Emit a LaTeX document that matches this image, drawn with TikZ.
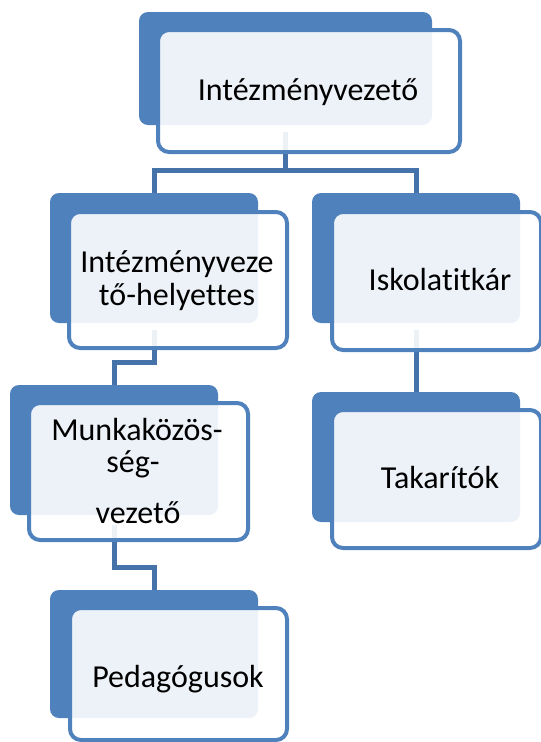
\documentclass[tikz,border=0pt]{standalone}
\usepackage{fontspec}
\setmainfont[Ligatures=NoCommon]{Carlito}
\definecolor{bl}{HTML}{4F81BD}
\definecolor{cn}{HTML}{4672AA}
\begin{document}
\begin{tikzpicture}[x=1pt,y=-1pt,
 back/.style={fill=bl, rounded corners=9pt, inner sep=0pt, outer sep=0pt},
 front/.style={draw=bl, line width=4pt, fill=white, fill opacity=0.9, rounded corners=11pt, inner sep=0pt, outer sep=0pt},
 conn/.style={draw=cn, line width=5pt},
 lbl/.style={font=\fontsize{32}{34}\selectfont, anchor=base, inner sep=0pt, text=black}]
\useasboundingbox (0,0) rectangle (541,742);
% back panels
\node[back, minimum width=293pt, minimum height=113pt] (b1) at (285.5,68.5) {};
\node[back, minimum width=208pt, minimum height=130pt] (b2) at (154,258) {};
\node[back, minimum width=208pt, minimum height=130pt] (b3) at (416,258) {};
\node[back, minimum width=208pt, minimum height=130pt] (b4) at (114,450) {};
\node[back, minimum width=208pt, minimum height=128pt] (b5) at (154,654) {};
\node[back, minimum width=208pt, minimum height=130pt] (b6) at (416,457) {};
% connectors
\draw[conn] ([yshift=-7pt]b1.south) coordinate (c1) -- ++(0,38) coordinate (j1) -| (b2.north);
\draw[conn] (j1) -| (b3.north);
\draw[conn] ([yshift=-7pt]b2.south) coordinate (c2) -- ++(0,32) -| (b4.north);
\draw[conn] ([yshift=-7pt]b3.south) coordinate (c3) -- (b6.north);
\draw[conn] ([yshift=-10pt]b4.south) coordinate (c4) -- ++(0,42) -| (b5.north);
% front panels
\node[front, minimum width=302pt, minimum height=122pt] (f1) at (309,91) {};
\node[front, minimum width=218pt, minimum height=136pt] (f2) at (178,280) {};
\node[front, minimum width=209pt, minimum height=138pt] (f3) at (436.5,281) {};
\node[front, minimum width=219pt, minimum height=137pt] (f4) at (138.5,471.5) {};
\node[front, minimum width=217pt, minimum height=132pt] (f5) at (178.5,674) {};
\node[front, minimum width=209pt, minimum height=138pt] (f6) at (436.5,479) {};
% labels
\node[lbl] (t1) at (308,100) {Intézményvezető};
\node[lbl] (t2a) at (177,272) {Intézményveze};
\node[lbl] (t2b) at (177,305) {tő-helyettes};
\node[lbl] (t3) at (440,290) {Iskolatitkár};
\node[lbl] (t4a) at (137,440) {Munkaközös-};
\node[lbl] (t4b) at (133,472) {ség-};
\node[lbl] (t4c) at (138,523) {vezető};
\node[lbl] (t5) at (178,687) {Pedagógusok};
\node[lbl] (t6) at (440,488) {Takarítók};
\end{tikzpicture}
\end{document}
